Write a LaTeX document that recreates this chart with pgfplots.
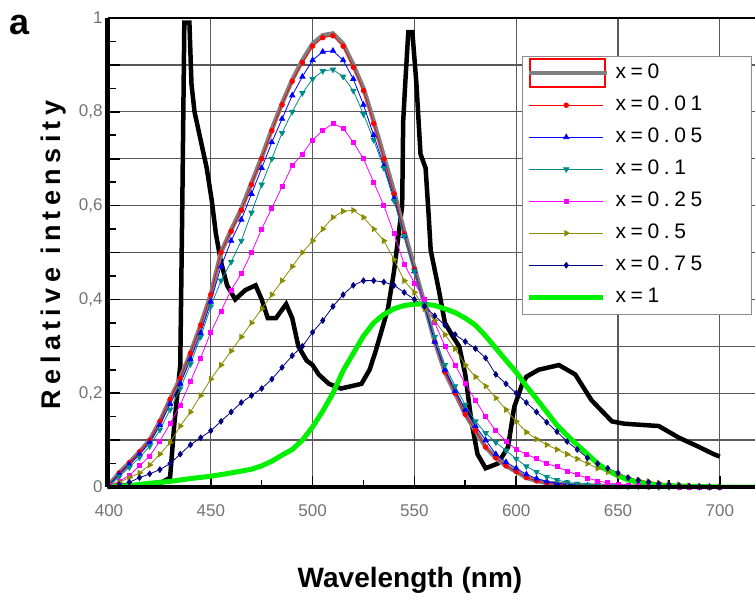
\documentclass[border=0pt]{standalone}
\usepackage{fontspec}
\setmainfont{Liberation Sans}
\newfontfamily\widefont{Liberation Sans}[LetterSpace=20]
\newfontfamily\legfont{Liberation Sans}[LetterSpace=22]
\usepackage{pgfplots}
\pgfplotsset{compat=1.18}
\usepackage{pgfplotstable}

\definecolor{cgray}{HTML}{808080}
\definecolor{cred}{HTML}{FF0000}
\definecolor{cblue}{HTML}{0000FF}
\definecolor{cteal}{HTML}{008B8B}
\definecolor{cmag}{HTML}{FF00FF}
\definecolor{colive}{HTML}{8B8B00}
\definecolor{cnavy}{HTML}{000080}
\definecolor{cgreen}{HTML}{00F000}

\newcommand{\entry}[1]{\hspace*{4pt}\makebox[130pt][l]{#1}}

% emission spectra, 5 nm steps
\pgfplotstableread{
nm  a0    a001  a005  a01   a025  a05   a075
400 .005  .005  .005  .004  .003  .002  .002
405 .030  .030  .027  .022  .012  .010  .005
410 .052  .052  .048  .042  .025  .020  .010
415 .075  .075  .070  .063  .045  .030  .020
420 .100  .100  .095  .087  .066  .047  .028
425 .140  .140  .132  .122  .098  .070  .037
430 .187  .187  .177  .165  .135  .095  .050
435 .232  .232  .220  .210  .175  .130  .070
440 .285  .285  .272  .262  .225  .160  .090
445 .345  .345  .328  .320  .275  .195  .105
450 .410  .410  .395  .385  .330  .230  .120
455 .500  .500  .470  .440  .375  .260  .140
460 .548  .545  .525  .480  .420  .290  .160
465 .593  .590  .570  .525  .455  .320  .180
470 .648  .645  .625  .585  .500  .350  .195
475 .703  .700  .680  .645  .550  .380  .210
480 .763  .760  .735  .700  .595  .410  .230
485 .818  .815  .785  .755  .640  .440  .255
490 .868  .865  .835  .800  .685  .470  .280
495 .910  .905  .875  .840  .710  .500  .300
500 .945  .940  .910  .870  .740  .525  .330
505 .963  .958  .928  .887  .760  .550  .355
510 .967  .962  .930  .890  .775  .575  .385
515 .945  .940  .910  .875  .765  .588  .410
520 .900  .895  .870  .845  .735  .590  .430
525 .850  .845  .815  .795  .700  .575  .440
530 .780  .775  .750  .740  .650  .550  .440
535 .705  .700  .685  .680  .600  .525  .437
540 .630  .625  .615  .610  .540  .485  .430
545 .545  .540  .535  .535  .475  .440  .415
550 .468  .465  .460  .460  .435  .415  .400
555 .390  .390  .385  .390  .400  .380  .385
560 .310  .310  .310  .320  .350  .355  .365
565 .245  .245  .250  .260  .300  .325  .345
570 .200  .200  .205  .215  .260  .295  .325
575 .155  .155  .165  .175  .220  .260  .310
580 .120  .120  .130  .140  .185  .235  .295
585 .085  .085  .100  .115  .150  .215  .275
590 .062  .062  .070  .095  .120  .190  .240
595 .045  .045  .053  .078  .098  .165  .220
600 .033  .033  .040  .060  .080  .140  .200
605 .020  .020  .027  .044  .070  .117  .180
610 .013  .013  .018  .032  .060  .102  .160
615 .009  .009  .012  .022  .050  .090  .138
620 .007  .007  .008  .015  .043  .080  .118
625 .005  .005  .006  .010  .034  .070  .097
630 .004  .004  .004  .007  .026  .060  .080
635 .003  .003  .003  .005  .019  .050  .062
640 .003  .003  .003  .004  .013  .040  .050
645 .002  .002  .002  .003  .009  .032  .040
650 .002  .002  .002  .002  .006  .026  .030
655 .001  .001  .001  .001  .004  .020  .020
660 .001  .001  .001  .001  .003  .015  .014
665 0     0     0     .001  .002  .012  .010
670 0     0     0     0     .001  .009  .007
675 0     0     0     0     .001  .007  .005
680 0     0     0     0     0     .005  .003
685 0     0     0     0     0     .003  .002
690 0     0     0     0     0     .002  .001
695 0     0     0     0     0     .001  0
700 0     0     0     0     0     .001  0
}\spectra

% x=1
\pgfplotstableread{
nm  y
400 0
410 .003
420 .008
430 .012
440 .018
450 .023
460 .030
470 .038
475 .045
480 .055
485 .068
490 .080
495 .100
500 .128
505 .162
510 .200
515 .248
520 .285
525 .322
530 .350
535 .368
540 .380
545 .387
550 .390
555 .390
560 .387
565 .380
570 .372
575 .360
580 .345
585 .322
590 .296
595 .270
600 .245
605 .215
610 .188
615 .160
620 .132
625 .110
630 .090
635 .070
640 .050
645 .035
650 .024
655 .015
660 .010
665 .006
670 .004
680 .002
690 .001
700 0
720 0
}\greencurve

% reference spectrum (black)
\pgfplotstableread{
nm    y
400   0
410   0
420   .005
426   .01
430   .02
432   .13
435   .26
436   .60
437   .99
439.5 .99
440.5 .86
442   .80
445   .74
448   .68
450.5 .61
452.5 .54
455   .48
458   .43
462   .40
467   .42
472   .43
475   .40
478   .36
482   .36
487   .39
490   .36
493   .30
497   .27
500   .26
503   .24
508   .22
514   .21
524   .22
528   .25
531   .29
535   .35
537   .38
540   .46
542   .53
544   .60
544.5 .78
545.5 .86
547   .97
549   .97
551   .86
553   .71
555.5 .68
557   .58
558   .505
562   .42
565   .35
569   .32
572   .30
575   .24
578   .14
581   .07
585   .04
591   .05
596   .085
599   .17
603   .22
605   .235
611   .25
621   .26
629   .24
637   .185
647   .14
653   .135
670   .13
680   .105
690   .085
697   .07
700   .065
}\lamp

\begin{document}
\begin{tikzpicture}
\begin{axis}[
  name=ax, at={(0pt,0pt)}, anchor=south west,
  scale only axis, width=651.5pt, height=469pt,
  xmin=400, xmax=720, ymin=0, ymax=1,
  xtick={400,450,500,550,600,650,700}, minor x tick num=1,
  ytick={0,0.2,0.4,0.6,0.8,1}, minor y tick num=3,
  extra y ticks={0.1,0.3,0.5,0.7,0.9}, extra y tick labels={},
  extra y tick style={grid=major},
  xtick pos=lower, ytick pos=left,
  tick align=inside,
  major tick length=11pt, minor tick length=7pt,
  every tick/.style={black, line width=1.6pt},
  grid=major,
  major grid style={black!65, line width=1.3pt},
  axis line style={black, line width=1.5pt},
  /pgf/number format/assume math mode=true,
  yticklabel style={/pgf/number format/use comma, /pgf/number format/fixed},
  tick label style={black!55, font=\fontsize{17}{17}\selectfont},
  xticklabel shift=14pt,
  yticklabel shift=3pt,
  xlabel={\bfseries Wavelength (nm)},
  ylabel={\bfseries\widefont Relative intensity},
  every axis x label/.style={at={(axis description cs:0.462,-0.198)}, anchor=center, font=\fontsize{28}{30}\selectfont},
  every axis y label/.style={at={(axis description cs:-0.085,0.495)}, rotate=90, anchor=center, font=\fontsize{27}{30}\selectfont},
  legend image code/.code={\draw[mark repeat=2,mark phase=2,#1] plot coordinates {(0pt,0pt) (37pt,0pt) (74pt,0pt)};},
  legend cell align=left,
  legend style={at={(0.634,0.92)}, anchor=north west, draw=black!45, line width=1.4pt,
    fill=white, font=\legfont\fontsize{21}{23}\selectfont,
    nodes={text height=19pt, text depth=9pt},
    inner xsep=4pt, inner ysep=1pt},
]
\addplot[black, line width=4.5pt, forget plot] table[x=nm, y=y] {\lamp};

\addplot[cgray, line width=4.5pt,
  legend image code/.code={\draw[red, line width=1.6pt] (1pt,-14pt) rectangle (76pt,14pt);
    \draw[cgray, line width=4.5pt] (0pt,0pt) -- (78pt,0pt);}]
  table[x=nm, y=a0] {\spectra};
\addlegendentry{\entry{x=0}}
\addplot[cred, line width=0.8pt, mark=*, mark size=2.3pt] table[x=nm, y=a001] {\spectra};
\addlegendentry{\entry{x=0.01}}
\addplot[cblue, line width=0.8pt, mark=triangle*, mark size=3pt] table[x=nm, y=a005] {\spectra};
\addlegendentry{\entry{x=0.05}}
\addplot[cteal, line width=0.8pt, mark=triangle*, mark size=3pt, mark options={rotate=180}] table[x=nm, y=a01] {\spectra};
\addlegendentry{\entry{x=0.1}}
\addplot[cmag, line width=0.8pt, mark=square*, mark size=2pt] table[x=nm, y=a025] {\spectra};
\addlegendentry{\entry{x=0.25}}
\addplot[colive, line width=0.8pt, mark=triangle*, mark size=3pt, mark options={rotate=-90}] table[x=nm, y=a05] {\spectra};
\addlegendentry{\entry{x=0.5}}
\addplot[cnavy, line width=0.8pt, mark=diamond*, mark size=2.8pt] table[x=nm, y=a075] {\spectra};
\addlegendentry{\entry{x=0.75}}
\addplot[cgreen, line width=5pt] table[x=nm, y=y] {\greencurve};
\addlegendentry{\entry{x=1}}
\end{axis}
\draw[line width=5pt, black] ([xshift=-1.5pt]ax.south west) -- ([xshift=-1.5pt]ax.north west);
\draw[line width=3.5pt, black] (ax.south west) -- (ax.south east);
\node[font=\bfseries\fontsize{36}{36}\selectfont] at (-89pt,462pt) {a};
\pgfresetboundingbox
\path[use as bounding box] (-109pt,-127pt) rectangle (646pt,487pt);
\end{tikzpicture}
\end{document}
